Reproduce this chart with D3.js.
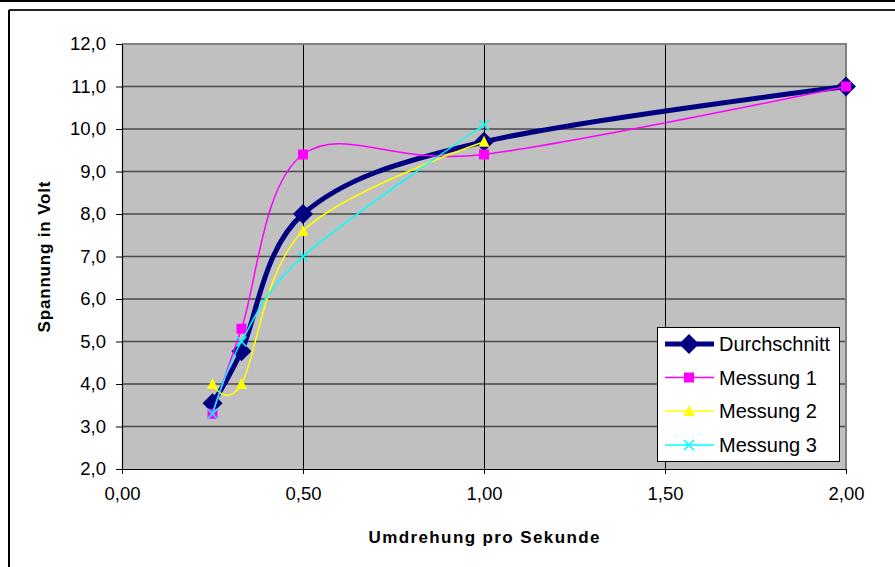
<!DOCTYPE html>
<html><head><meta charset="utf-8">
<script src="https://cdnjs.cloudflare.com/ajax/libs/d3/7.8.5/d3.min.js"></script>
<style>
html,body{margin:0;padding:0;background:#fff;}
svg{display:block;font-family:"Liberation Sans",Arial,sans-serif;}
</style></head>
<body><svg id="c" width="895" height="567"></svg>
<script>
// ---- data ----
const xValues = [0.25, 0.33, 0.5, 1.0, 2.0];
const durchschnitt = [3.55, 4.77, 8.0, 9.7, 11.0];
const messung1 = [3.3, 5.3, 9.4, 9.4, 11.0];
const messung2 = [4.0, 4.0, 7.6, 9.7, null];
const messung3 = [3.3, 5.0, 7.0, 10.1, null];
const seriesNames = ["Durchschnitt", "Messung 1", "Messung 2", "Messung 3"];
const yTickValues = [2, 3, 4, 5, 6, 7, 8, 9, 10, 11, 12];
const xTickValues = [0, 0.5, 1.0, 1.5, 2.0];
const xTitle = "Umdrehung pro Sekunde";
const yTitle = "Spannung in Volt";

const svg = d3.select("#c");
const W = 895, H = 567;
const L = 122, R = 846, T = 44, B = 469;
const x = d3.scaleLinear().domain([0, 2]).range([L, R]);
const y = d3.scaleLinear().domain([2, 12]).range([B, T]);
const comma = f => v => d3.format(f)(v).replace(".", ",");

// outer frame lines
svg.append("rect").attr("x",0).attr("y",0).attr("width",W).attr("height",H).attr("fill","#fff");
svg.append("line").attr("x1",0).attr("x2",W).attr("y1",1).attr("y2",1).attr("stroke","#000").attr("stroke-width",2);
svg.append("line").attr("x1",9).attr("x2",W).attr("y1",10).attr("y2",10).attr("stroke","#222").attr("stroke-width",2);
svg.append("line").attr("x1",9).attr("x2",9).attr("y1",10).attr("y2",H).attr("stroke","#000").attr("stroke-width",2);

// plot area
svg.append("rect").attr("x",L).attr("y",T).attr("width",R-L).attr("height",B-T).attr("fill","#C0C0C0");

// gridlines
svg.append("g").selectAll("line").data(yTickValues.filter(v => v > 2 && v < 12)).join("line")
  .attr("x1",L).attr("x2",R).attr("y1",d=>y(d)).attr("y2",d=>y(d))
  .attr("stroke","#4a4a4a").attr("stroke-width",1.6);
svg.append("g").selectAll("line").data(xTickValues.filter(v => v > 0 && v < 2)).join("line")
  .attr("x1",d=>Math.round(x(d))+0.5).attr("x2",d=>Math.round(x(d))+0.5).attr("y1",T).attr("y2",B)
  .attr("stroke","#000").attr("stroke-width",1);

// plot border top/right
svg.append("path").attr("d",`M${L},${T}H${R}V${B}`).attr("fill","none").attr("stroke","#808080").attr("stroke-width",2);

// axes
const yAxis = svg.append("g").attr("transform",`translate(${L},0)`)
  .call(d3.axisLeft(y).tickValues(yTickValues).tickSize(6).tickSizeOuter(0).tickPadding(10).tickFormat(comma(".1f")));
const xAxis = svg.append("g").attr("transform",`translate(0,${B})`)
  .call(d3.axisBottom(x).tickValues(xTickValues).tickSize(5).tickSizeOuter(0).tickPadding(13).tickFormat(comma(".2f")));
[yAxis, xAxis].forEach(g => {
  g.selectAll("path.domain").attr("stroke","#000").attr("stroke-width",1.2);
  g.selectAll(".tick line").attr("stroke","#000");
  g.selectAll("text").attr("font-size",18.5).attr("fill","#000").attr("font-family","Liberation Sans, Arial, sans-serif");
});

// titles
svg.append("text").attr("x",(L+R)/2).attr("y",543).attr("text-anchor","middle")
  .attr("font-size",17).attr("font-weight","bold").attr("textLength",231).attr("lengthAdjust","spacing").text(xTitle);
svg.append("text").attr("transform",`translate(50,257) rotate(-90)`).attr("text-anchor","middle")
  .attr("font-size",17).attr("font-weight","bold").attr("textLength",151).attr("lengthAdjust","spacing").text(yTitle);

// series
const styles = [
  {color:"#000080", width:5, marker:"diamond", data:durchschnitt},
  {color:"#FF00FF", width:1.5, marker:"square", data:messung1},
  {color:"#FFFF00", width:1.5, marker:"triangle", data:messung2},
  {color:"#00FFFF", width:1.5, marker:"cross", data:messung3}
];
const line = d3.line().defined(d => d[1] != null).x(d => x(d[0])).y(d => y(d[1])).curve(d3.curveCardinal.tension(0));

function drawMarker(g, type, cx, cy, color) {
  if (type === "diamond") {
    g.append("path").attr("d",`M${cx},${cy-10}L${cx+10},${cy}L${cx},${cy+10}L${cx-10},${cy}Z`).attr("fill",color);
  } else if (type === "square") {
    g.append("rect").attr("x",cx-5).attr("y",cy-5).attr("width",10).attr("height",10).attr("fill",color);
  } else if (type === "triangle") {
    g.append("path").attr("d",`M${cx},${cy-6}L${cx+5.5},${cy+5}L${cx-5.5},${cy+5}Z`).attr("fill",color);
  } else if (type === "cross") {
    g.append("path").attr("d",`M${cx-5},${cy-5}L${cx+5},${cy+5}M${cx+5},${cy-5}L${cx-5},${cy+5}`).attr("stroke",color).attr("stroke-width",1.6);
  }
}

const plot = svg.append("g");
styles.forEach(s => {
  const pts = xValues.map((xv, i) => [xv, s.data[i]]).filter(d => d[1] != null);
  plot.append("path").datum(pts).attr("d", line).attr("fill","none")
    .attr("stroke", s.color).attr("stroke-width", s.width).attr("stroke-linejoin","round");
  const mg = plot.append("g");
  pts.forEach(d => drawMarker(mg, s.marker, x(d[0]), y(d[1]), s.color));
});

// legend
const lg = svg.append("g");
lg.append("rect").attr("x",657.5).attr("y",327.5).attr("width",182).attr("height",134)
  .attr("fill","#fff").attr("stroke","#000").attr("stroke-width",1);
const legY = [344, 377.5, 411, 445];
styles.forEach((s, i) => {
  const cy = legY[i];
  lg.append("line").attr("x1",665).attr("x2",714).attr("y1",cy).attr("y2",cy)
    .attr("stroke",s.color).attr("stroke-width", s.width);
  drawMarker(lg, s.marker, 689, cy, s.color);
  lg.append("text").attr("x",719).attr("y",cy).attr("dy","0.35em").attr("font-size",20).attr("fill","#000").text(seriesNames[i]);
});
</script></body></html>
